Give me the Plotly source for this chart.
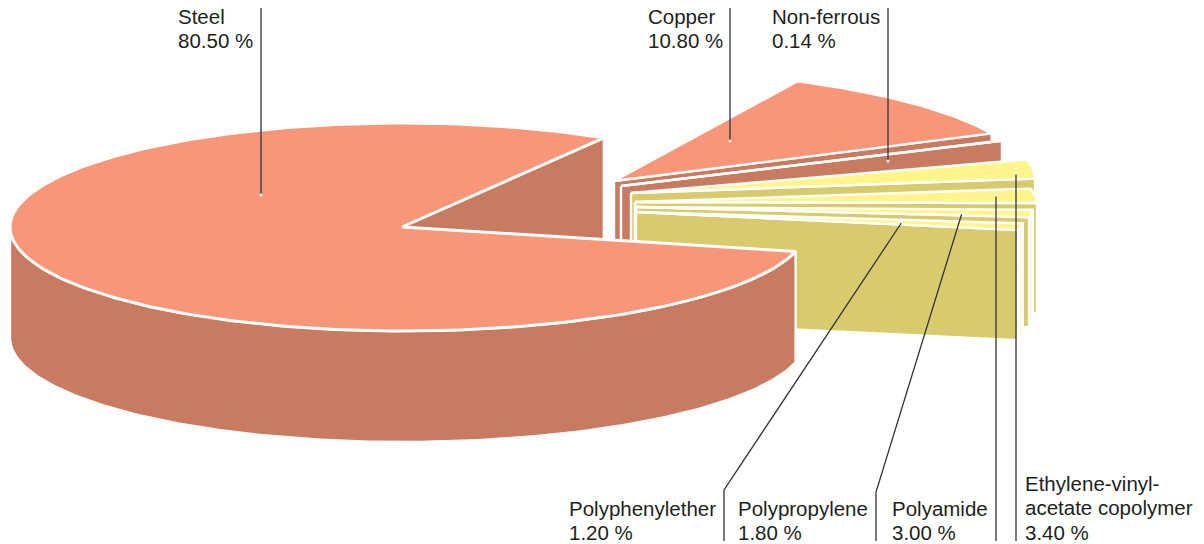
import math
import plotly.graph_objects as go

# ---- data ----
materials = ["Steel", "Copper", "Non-ferrous", "Ethylene-vinyl-<br>acetate copolymer",
             "Polyamide", "Polypropylene", "Polyphenylether"]
shares = [80.50, 10.80, 0.14, 3.40, 3.00, 1.80, 1.20]

# ---- drawing geometry (pixel space of the page) ----
TOTAL = sum(shares)
DEPTH = 110
STEEL_DEPTH = 111
SALMON, SALMON_DK = "#F79678", "#C97B62"
YELLOW, YELLOW_DK, CREAM = "#FFF58A", "#D8CB6E", "#FBF8E4"
FONT = dict(family="Liberation Sans, Arial, sans-serif", size=20.5, color="#231F20")

# hub x, hub y, arc cx, arc cy, rx, ry, end angle of the slice (degrees)
placement = {
    "Copper":          (614, 181, 614, 181, 418, 111, 25.4),
    "Non-ferrous":     (621, 186, 621, 186, 417, 111, 24.0),
    "Ethylene":        (631, 193, 633, 178.5, 402, 93, 0.0),
    "Polyamide":       (635, 202, 635, 203, 402, 80, 0.0),
    "Polypropylene":   (636, 207, 636, 208, 397, 66, -8.0),
    "Polyphenylether": (636, 212, 634, 212, 392, 90, -11.6),
}
slice_keys = ["Copper", "Non-ferrous", "Ethylene", "Polyamide", "Polypropylene", "Polyphenylether"]

fig = go.Figure()


def poly(xs, ys, fill, lw=2.4):
    fig.add_trace(go.Scatter(x=xs + xs[:1], y=ys + ys[:1], mode="lines", fill="toself",
                             fillcolor=fill, line=dict(color="white", width=lw),
                             hoverinfo="skip", showlegend=False))


def arc(cx, cy, rx, ry, a0, a1, n=60, rx_lower_right=None):
    xs, ys = [], []
    for i in range(n + 1):
        t = math.radians(a0 + (a1 - a0) * i / n)
        c, s = math.cos(t), math.sin(t)
        r = rx_lower_right if (rx_lower_right and c > 0 and s < 0) else rx
        xs.append(cx + r * c)
        ys.append(cy - ry * s)
    return xs, ys


def draw_slice(key, value, top, wall, rim):
    hx, hy, cx, cy, rx, ry, b = placement[key]
    a = b + value / TOTAL * 360
    ax, ay = arc(cx, cy, rx, ry, a, b)
    # radial wall at the clockwise end of the slice
    poly([hx, ax[-1], ax[-1], hx], [hy, ay[-1], ay[-1] + DEPTH, hy + DEPTH], wall)
    # outer rim below the horizontal
    if b < 0:
        rx_, ry_ = arc(cx, cy, rx, ry, min(a, 0), b)
        poly(rx_ + rx_[::-1], ry_ + [y + DEPTH for y in ry_[::-1]], rim)
    poly([hx] + ax, [hy] + ay, top)


for key, name_value in zip(slice_keys, shares[1:]):
    warm = key in ("Copper", "Non-ferrous")
    draw_slice(key, name_value, SALMON if warm else YELLOW,
               SALMON_DK if warm else YELLOW_DK,
               SALMON_DK if warm else CREAM)

# steel, the large slice in front
SX, SY, SRX, SRY, SRX_LR = 402, 227, 392, 104, 405
s_start = 59.0
s_end = s_start + shares[0] / TOTAL * 360
sx, sy = arc(SX, SY, SRX, SRY, s_start, s_end, 240, SRX_LR)
poly([SX, sx[0], sx[0], SX], [SY, sy[0], sy[0] + STEEL_DEPTH, SY + STEEL_DEPTH], SALMON_DK)
rx_, ry_ = arc(SX, SY, SRX, SRY, 180, s_end, 160, SRX_LR)
poly(rx_ + rx_[::-1], ry_ + [y + STEEL_DEPTH for y in ry_[::-1]], SALMON_DK)
poly([SX] + sx, [SY] + sy, SALMON, 3)

# leader lines
leaders = [
    ([261, 261], [8, 195]),
    ([730, 730], [8, 141]),
    ([888, 888], [8, 161]),
    ([1016, 1016], [173, 541]),
    ([996, 996], [195, 541]),
    ([962, 876, 876], [213, 492, 541]),
    ([902, 724, 724], [222, 490, 541]),
]
for xs, ys in leaders:
    fig.add_trace(go.Scatter(x=xs, y=ys, mode="lines", line=dict(color="#333333", width=1.3),
                             hoverinfo="skip", showlegend=False))
    end = 1 if ys[0] == 8 else 0
    fig.add_trace(go.Scatter(x=[xs[-1 if end else 0]], y=[ys[-1 if end else 0]], mode="markers",
                             marker=dict(size=3, color="white"), hoverinfo="skip", showlegend=False))

# left edge and centre of the first text line of each label
label_pos = [(178, 16), (648, 16), (772, 16), (1025, 483), (892, 508), (738, 508), (569, 508)]
LINE = 24.6
for name, v, (x, y) in zip(materials, shares, label_pos):
    for i, line in enumerate(name.split("<br>") + [f"{v:.2f} %"]):
        fig.add_annotation(x=x, y=y + i * LINE, xref="x", yref="y", text=line, showarrow=False,
                           xanchor="left", yanchor="middle", align="left", font=FONT,
                           borderpad=0, borderwidth=0)

fig.update_xaxes(range=[0, 1204], visible=False, fixedrange=True)
fig.update_yaxes(range=[544, 0], visible=False, fixedrange=True)
fig.update_layout(width=1204, height=544, margin=dict(l=0, r=0, t=0, b=0),
                  paper_bgcolor="white", plot_bgcolor="white", showlegend=False)
fig.write_html("out.html", post_script="document.body.style.margin='0';document.body.style.overflow='hidden';",
               config={"displayModeBar": False})
